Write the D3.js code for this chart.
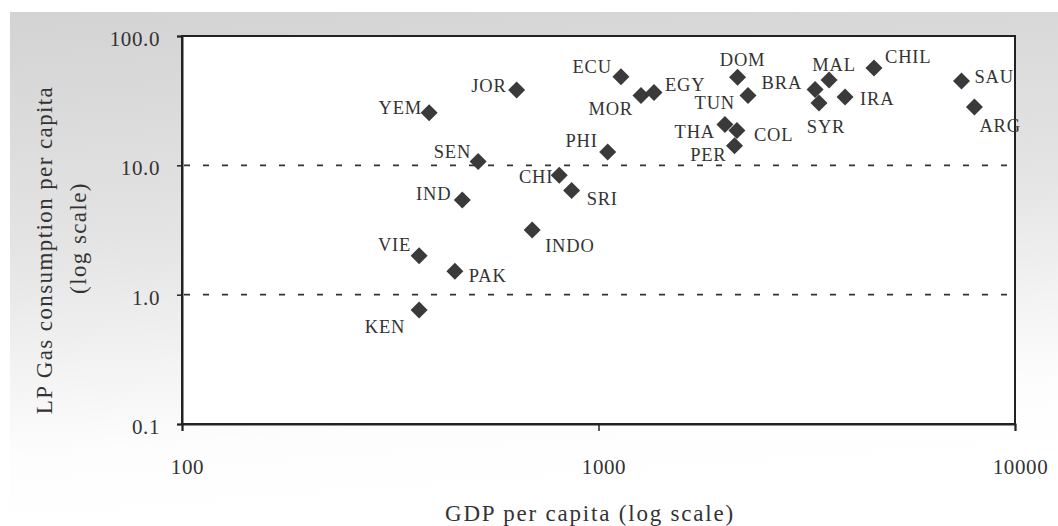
<!DOCTYPE html>
<html>
<head>
<meta charset="utf-8">
<script src="https://cdn.jsdelivr.net/npm/d3@7"></script>
<style>
  body { margin: 0; background: #fff; }
  svg { display: block; font-family: "Liberation Serif", "Times New Roman", serif; }
</style>
</head>
<body>
<svg id="chart" width="1058" height="526"></svg>
<script>
// Country codes, GDP per capita and LP gas consumption per capita
const countries = ['YEM', 'JOR', 'ECU', 'SEN', 'PHI', 'CHI', 'SRI', 'IND', 'INDO', 'VIE', 'PAK', 'KEN',
  'MOR', 'EGY', 'DOM', 'TUN', 'THA', 'COL', 'PER', 'BRA', 'MAL', 'SYR', 'IRA', 'CHIL', 'SAU', 'ARG'];
const gdpPerCapita = [392, 636, 1132, 514, 1052, 805, 862, 471, 693, 371, 452, 371,
  1265, 1359, 2157, 2285, 2012, 2150, 2121, 3311, 3577, 3384, 3908, 4587, 7440, 7992];
const lpgPerCapita = [25.5, 38.2, 48.4, 10.7, 12.7, 8.4, 6.4, 5.4, 3.16, 2.0, 1.52, 0.76,
  34.7, 36.6, 47.9, 34.7, 20.7, 18.6, 14.2, 38.6, 45.7, 30.3, 33.8, 56.6, 44.9, 28.2];

const xTicks = [100, 1000, 10000];
const yTicks = [0.1, 1, 10, 100];
const gridValues = [1, 10];

// where each label sits relative to its marker: [dx, dy, anchor]
const labelPos = {
  YEM: [-7, 1, 'end'], JOR: [-10, 2, 'end'], ECU: [-9, -4, 'end'], SEN: [-7, -4, 'end'],
  PHI: [-10, -5, 'end'], CHI: [-6, 8, 'end'], SRI: [15, 15, 'start'], IND: [-11, 0, 'end'],
  INDO: [13, 22, 'start'], VIE: [-8, -5, 'end'], PAK: [14, 11, 'start'], KEN: [-14, 23, 'end'],
  MOR: [-8, 20, 'end'], EGY: [11, -1, 'start'], DOM: [5, -11, 'middle'], TUN: [-13, 14, 'end'],
  THA: [-10, 14, 'end'], COL: [17, 11, 'start'], PER: [-8, 15, 'end'], BRA: [-13, 0, 'end'],
  MAL: [5, -9, 'middle'], SYR: [7, 30, 'middle'], IRA: [15, 8, 'start'], CHIL: [11, -5, 'start'],
  SAU: [13, 2, 'start'], ARG: [5, 25, 'start']
};

const data = countries.map((c, i) => ({ name: c, gdp: gdpPerCapita[i], lpg: lpgPerCapita[i] }));

const width = 1058;
const height = 526;
const margin = { top: 36, right: 43, bottom: 102, left: 182 };
const ink = '#333';

const svg = d3.select('#chart');

// grey backdrop fading out towards the bottom
const defs = svg.append('defs');
const grad = defs.append('linearGradient')
  .attr('id', 'bg')
  .attr('x1', 0).attr('y1', 0).attr('x2', 0.15).attr('y2', 1);
grad.append('stop').attr('offset', '0%').attr('stop-color', '#d3d3d3');
grad.append('stop').attr('offset', '45%').attr('stop-color', '#e4e4e4');
grad.append('stop').attr('offset', '85%').attr('stop-color', '#fdfdfd');
grad.append('stop').attr('offset', '100%').attr('stop-color', '#ffffff');

svg.append('rect')
  .attr('x', 10).attr('y', 12)
  .attr('width', width - 10).attr('height', height - 12)
  .attr('fill', 'url(#bg)');

const x = d3.scaleLog()
  .domain([100, 10000])
  .range([margin.left, width - margin.right]);

const y = d3.scaleLog()
  .domain([0.1, 100])
  .range([height - margin.bottom, margin.top]);

// plot area
svg.append('rect')
  .attr('x', x(100)).attr('y', y(100))
  .attr('width', x(10000) - x(100))
  .attr('height', y(0.1) - y(100))
  .attr('fill', '#fff')
  .attr('stroke', '#222')
  .attr('stroke-width', 2);

// dashed grid lines
svg.append('g')
  .selectAll('line')
  .data(gridValues)
  .join('line')
  .attr('x1', x(100) + 2)
  .attr('x2', x(10000) - 4)
  .attr('y1', d => y(d))
  .attr('y2', d => y(d))
  .attr('stroke', '#333')
  .attr('stroke-width', 1.6)
  .attr('stroke-dasharray', '6,13');

// axes
const yAxis = svg.append('g')
  .attr('transform', `translate(${x(100)},0)`)
  .call(d3.axisLeft(y).tickValues(yTicks).tickFormat(d3.format('.1f')).tickSize(5).tickPadding(17));

const xAxis = svg.append('g')
  .attr('transform', `translate(0,${y(0.1)})`)
  .call(d3.axisBottom(x).tickValues(xTicks).tickFormat(d3.format('d')).tickSize(7).tickPadding(28));

[yAxis, xAxis].forEach(a => {
  a.select('.domain').attr('stroke', '#222').attr('stroke-width', 2);
  a.selectAll('.tick line').attr('stroke', '#222').attr('stroke-width', 1.5);
  a.selectAll('.tick text')
    .attr('fill', ink)
    .style('font-family', '"Liberation Serif", serif')
    .style('font-size', '21px')
    .style('letter-spacing', '0.6px');
});
yAxis.selectAll('.tick text').attr('dy', '0.45em');
xAxis.selectAll('.tick text').attr('dx', '5');

// axis titles
svg.append('text')
  .attr('x', 590)
  .attr('y', 521)
  .attr('text-anchor', 'middle')
  .attr('fill', ink)
  .style('font-size', '23px')
  .style('letter-spacing', '1.8px')
  .text('GDP per capita (log scale)');

const yTitle = svg.append('text')
  .attr('transform', 'translate(0,250) rotate(-90)')
  .attr('text-anchor', 'middle')
  .attr('fill', ink)
  .style('font-size', '23px')
  .style('letter-spacing', '1.4px');
yTitle.append('tspan').attr('x', 0).attr('y', 52).text('LP Gas consumption per capita');
yTitle.append('tspan').attr('x', 12).attr('y', 86).text('(log scale)');

// markers
svg.append('g')
  .selectAll('path')
  .data(data)
  .join('path')
  .attr('transform', d => `translate(${x(d.gdp)},${y(d.lpg)})`)
  .attr('d', 'M0,-8.5L8.5,0L0,8.5L-8.5,0Z')
  .attr('fill', '#3a3a3a');

// country labels
svg.append('g')
  .selectAll('text')
  .data(data)
  .join('text')
  .attr('x', d => x(d.gdp) + labelPos[d.name][0])
  .attr('y', d => y(d.lpg) + labelPos[d.name][1])
  .attr('text-anchor', d => labelPos[d.name][2])
  .attr('fill', ink)
  .style('font-size', '18.5px')
  .style('letter-spacing', '0.8px')
  .text(d => d.name);
</script>
</body>
</html>
